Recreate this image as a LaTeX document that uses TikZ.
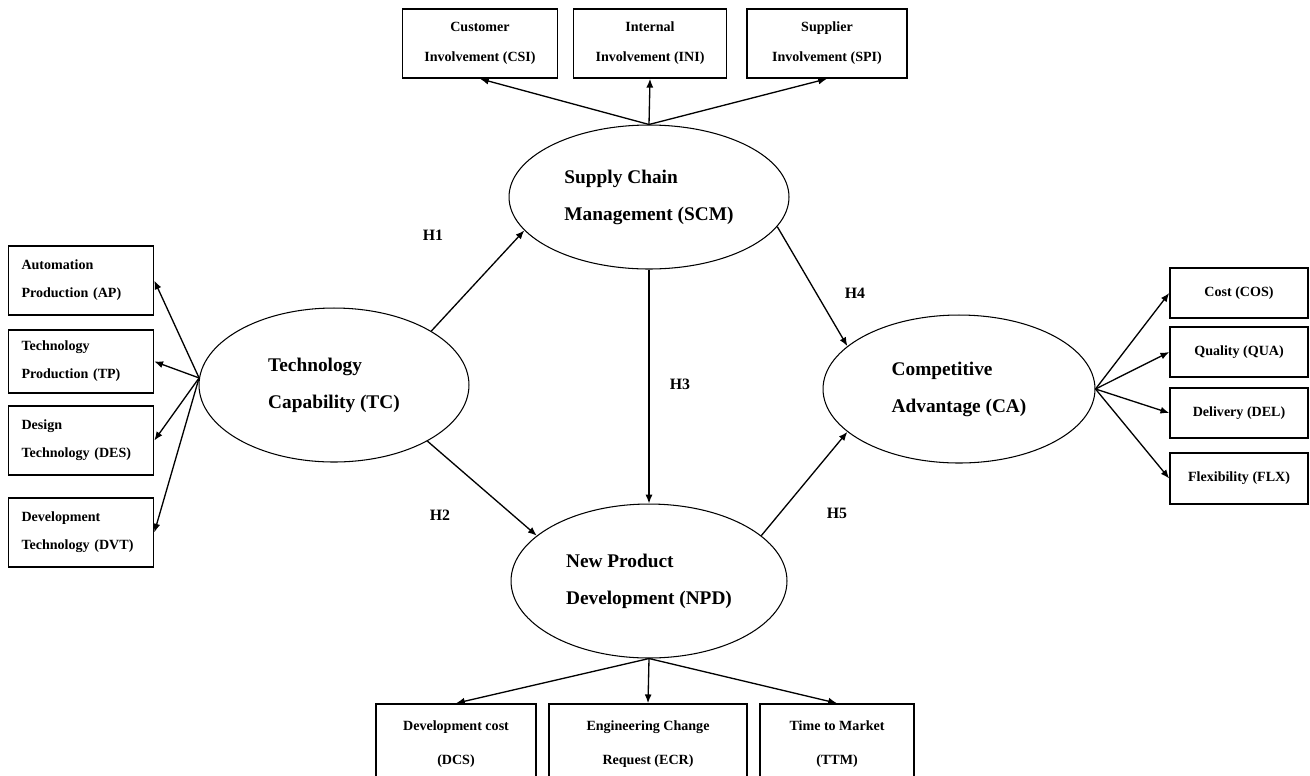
\documentclass[tikz,border=0pt]{standalone}
\usepackage{fontspec}
\setmainfont{Liberation Serif}
\usetikzlibrary{arrows.meta,shapes.geometric}

\begin{document}
\begin{tikzpicture}[
    x=0.02cm, y=-0.02cm,
    construct/.style={draw, ellipse, line width=0.6pt, inner sep=0pt, align=left, font=\fontsize{11}{21}\selectfont\bfseries},
    item/.style={draw, line width=0.9pt, inner sep=0pt, align=center, font=\fontsize{8}{17}\selectfont\bfseries},
    itemleft/.style={item, align=left, text width=2.38cm, inner xsep=0.26cm, font=\fontsize{8}{16}\selectfont\bfseries},
    hyp/.style={font=\fontsize{9}{9}\selectfont\bfseries},
    arr/.style={-{Latex[length=5pt,width=4pt]}, line width=0.75pt}
]
\useasboundingbox (0,0) rectangle (1310,775);

% constructs
\node[construct, minimum width=5.4cm, minimum height=3.08cm] (tc) at (334,385) {Technology\\Capability (TC)};
\node[construct, minimum width=5.6cm, minimum height=2.88cm] (scm) at (649,197) {Supply Chain\\Management (SCM)};
\node[construct, minimum width=5.52cm, minimum height=3.08cm] (npd) at (649,581) {New Product\\Development (NPD)};
\node[construct, minimum width=5.44cm, minimum height=2.96cm] (ca) at (959,389) {Competitive\\Advantage (CA)};

% indicators of SCM
\node[item, minimum width=3.1cm, minimum height=1.38cm] (csi) at (480,43.5) {Customer\\Involvement (CSI)};
\node[item, minimum width=3.06cm, minimum height=1.38cm] (ini) at (650,43.5) {Internal\\Involvement (INI)};
\node[item, minimum width=3.2cm, minimum height=1.38cm] (spi) at (827,43.5) {Supplier\\Involvement (SPI)};

% indicators of TC
\node[itemleft, minimum height=1.38cm] (ap) at (81,280.5) {Automation\\Production (AP)};
\node[itemleft, minimum height=1.26cm] (tp) at (81,361.5) {Technology\\Production (TP)};
\node[itemleft, minimum height=1.38cm] (des) at (81,440.5) {Design\\Technology (DES)};
\node[itemleft, minimum height=1.38cm] (dvt) at (81,532.5) {Development\\Technology (DVT)};

% indicators of CA
\node[item, minimum width=2.76cm, minimum height=1.0cm] (cos) at (1239,293) {Cost (COS)};
\node[item, minimum width=2.76cm, minimum height=1.0cm] (qua) at (1239,352) {Quality (QUA)};
\node[item, minimum width=2.76cm, minimum height=1.0cm] (del) at (1239,413) {Delivery (DEL)};
\node[item, minimum width=2.76cm, minimum height=1.02cm] (flx) at (1239,478.5) {Flexibility (FLX)};

% indicators of NPD (cut at the page edge)
\node[item, minimum width=3.2cm, minimum height=1.6cm, font=\fontsize{8}{19}\selectfont\bfseries] (dcs) at (456,744) {Development cost\\(DCS)};
\node[item, minimum width=3.96cm, minimum height=1.6cm, font=\fontsize{8}{19}\selectfont\bfseries] (ecr) at (648,744) {Engineering Change\\Request (ECR)};
\node[item, minimum width=3.08cm, minimum height=1.6cm, font=\fontsize{8}{19}\selectfont\bfseries] (ttm) at (837,744) {Time to Market\\(TTM)};

% hypotheses
\node[hyp] (h1) at (433,235) {H1};
\node[hyp] (h2) at (440,515) {H2};
\node[hyp] (h3) at (680,384) {H3};
\node[hyp] (h4) at (855,293) {H4};
\node[hyp] (h5) at (837,513) {H5};

\draw[arr] (tc.29) -- (scm.195);
\draw[arr] (tc.-31) -- (npd.158);
\draw[arr] (scm.south) -- (npd.north);
\draw[arr] (scm.-13) -- (ca.159);
\draw[arr] (npd.22) -- (ca.201);

% measurement arrows
\draw[arr] (scm.north) -- (csi.south);
\draw[arr] (scm.north) -- (ini.south);
\draw[arr] (scm.north) -- (spi.south);

\draw[arr] (tc.177) -- (ap.east);
\draw[arr] (tc.177) -- (tp.east);
\draw[arr] (tc.177) -- (des.east);
\draw[arr] (tc.177) -- (dvt.east);

\draw[arr] (ca.east) -- (cos.west);
\draw[arr] (ca.east) -- (qua.west);
\draw[arr] (ca.east) -- (del.west);
\draw[arr] (ca.east) -- (flx.west);

\draw[arr] (npd.south) -- (dcs.north);
\draw[arr] (npd.south) -- (ecr.north);
\draw[arr] (npd.south) -- (ttm.north);
\end{tikzpicture}
\end{document}
